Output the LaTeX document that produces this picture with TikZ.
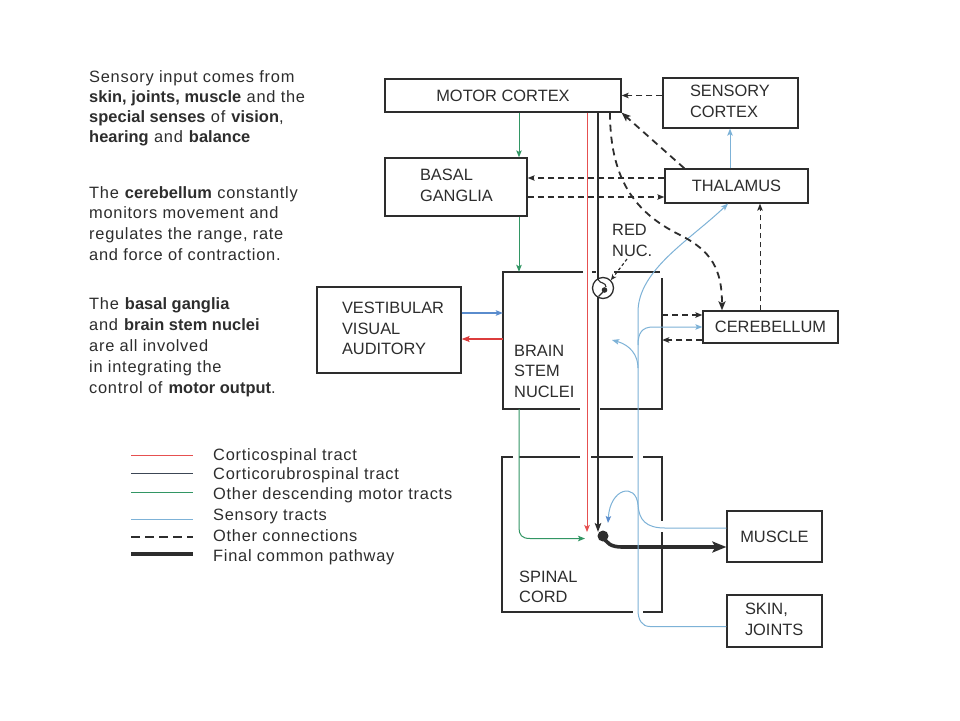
\documentclass[tikz,border=0pt]{standalone}
\usepackage{fontspec}
\setmainfont{Liberation Sans}
\newfontfamily\lsfont[LetterSpace=4.5, BoldFeatures={LetterSpace=0.3}]{Liberation Sans}
\usetikzlibrary{arrows.meta,calc}
\definecolor{ink}{RGB}{45,45,45}
\definecolor{tred}{RGB}{230,80,80}
\definecolor{tgreen}{RGB}{50,150,100}
\definecolor{tblue}{RGB}{125,178,215}
\definecolor{vblue}{RGB}{90,140,205}
\definecolor{vred}{RGB}{220,60,60}
\definecolor{rubro}{RGB}{60,70,85}
\newcommand{\capsz}{\fontsize{16.4}{20.5}\selectfont}
\newcommand{\bxt}[3]{\makebox[#1][l]{\hspace*{#2}\begin{tabular}{@{}l@{}}#3\end{tabular}}}
\begin{document}
\begin{tikzpicture}[x=1pt,y=-1pt,
  box/.style={draw=ink, line width=1.3pt, inner sep=0pt, text=ink, font=\capsz},
  outl/.style={draw=ink, line width=1.3pt},
  tip/.style={-{Stealth[length=7pt,width=5.5pt,inset=1.5pt]}},
  gr/.style={draw=tgreen, line width=1pt, tip},
  rd/.style={draw=tred, line width=1pt, tip},
  sens/.style={draw=tblue, line width=1pt, tip},
  vb/.style={draw=vblue, line width=1.1pt, tip},
  vr/.style={draw=vred, line width=1.1pt},
  rub/.style={draw=ink, line width=1.7pt},
  dsh/.style={draw=ink, line width=1.3pt, dash pattern=on 6pt off 4pt, tip},
  tdsh/.style={draw=ink, line width=1.8pt, dash pattern=on 7pt off 5pt, -{Stealth[length=9pt,width=7pt,inset=2pt]}},
  dthin/.style={draw=ink, line width=1pt, dash pattern=on 5pt off 4pt, tip},
  lt/.style={anchor=base west, inner sep=0pt, text=ink, font=\lsfont\capsz},
  lab/.style={anchor=base west, inner sep=0pt, text=ink, font=\capsz}]
\fill[white] (0,0) rectangle (960,720);
\useasboundingbox (0,0) rectangle (960,720);

% ---- boxes
\node[box, minimum width=236pt, minimum height=33pt] (mc) at (503,95.5) {MOTOR CORTEX};
\node[box, minimum width=135pt, minimum height=50pt] (sc) at (730.5,103) {\bxt{135pt}{27pt}{SENSORY\\CORTEX}};
\node[box, minimum width=142pt, minimum height=58pt] (bg) at (456,187) {\bxt{142pt}{35pt}{BASAL\\GANGLIA}};
\node[box, minimum width=143pt, minimum height=34pt] (th) at (736.5,186) {THALAMUS};
\node[box, minimum width=135pt, minimum height=32pt] (cb) at (770.5,327) {CEREBELLUM};
\node[box, minimum width=144pt, minimum height=86pt] (vs) at (389,330) {\bxt{144pt}{25pt}{VESTIBULAR\\VISUAL\\AUDITORY}};
\node[box, minimum width=95pt, minimum height=51pt] (mu) at (774.5,536.5) {MUSCLE};
\node[box, minimum width=95pt, minimum height=52pt] (sk) at (774.5,621) {\bxt{95pt}{18pt}{SKIN,\\JOINTS}};

% brain stem and spinal cord regions (outlines with gaps)
\node[draw=none, minimum width=159pt, minimum height=137pt, inner sep=0pt] (bs) at (582.5,340.5) {};
\node[draw=none, minimum width=160pt, minimum height=155pt, inner sep=0pt] (scd) at (582,534.5) {};
\draw[outl] (583,272) -- (503,272) -- (503,409) -- (580,409);
\draw[outl] (614,272) -- (660,272);
\draw[outl] (592,272) -- (596,272);
\draw[outl] (662,278) -- (662,409) -- (600,409);
\draw[outl] (513,457) -- (502,457) -- (502,612) -- (633,612);
\draw[outl] (519,457) -- (580,457);
\draw[outl] (591,457) -- (633,457);
\draw[outl] (643,457) -- (662,457) -- (662,521);
\draw[outl] (662,532) -- (662,612) -- (643,612);
\node[lab] (bst) at (514,356) {\begin{tabular}[t]{@{}l@{}}BRAIN\\STEM\\NUCLEI\end{tabular}};
\node[lab] (sct) at (519,582) {\begin{tabular}[t]{@{}l@{}}SPINAL\\CORD\end{tabular}};

% red nucleus
\node[circle, draw=ink, line width=1.3pt, minimum size=21pt, inner sep=0pt] (rn) at (603,288) {};
\node[lab] (rnl) at (612,235.5) {\begin{tabular}[t]{@{}l@{}}RED\\NUC.\end{tabular}};
\draw[ink, line width=1.2pt, dash pattern=on 3pt off 2.5pt, -{Stealth[length=6pt,width=5pt]}] (627,259) -- (rn.north east);

% x positions
\coordinate (xg) at (519,0);
\coordinate (xr) at (587,0);
\coordinate (xk) at (598,0);
\coordinate (xcv) at (610,0);
\coordinate (xcb) at (722,0);
\coordinate (xct) at (760,0);
\coordinate (xsc) at (730,0);
\coordinate (xth) at (728,0);
\coordinate (gend) at (585,538.5);
\coordinate (rend) at (587,532);
\coordinate (kend) at (598,532);
\node[circle, fill=ink, inner sep=0pt, minimum size=11pt] (syn) at (603,536) {};

% green: other descending motor tracts
\draw[gr] (mc.south -| xg) -- (bg.north -| xg);
\draw[gr] (bg.south -| xg) -- (bs.north -| xg);
\draw[gr] (bs.south -| xg) -- (519,528) .. controls (519,535) and (522,538.5) .. (530,538.5) -- (gend);

% red: corticospinal
\draw[rd] (mc.south -| xr) -- (rend);

% black: corticorubrospinal
\draw[rub] (mc.south -| xk) -- (598,279.5);
\draw[draw=ink, line width=1.1pt] (598,279.5) .. controls (600,284) and (606,282) .. (606,287);
\fill[ink] (604.5,290) circle (2.8);
\draw[draw=ink, line width=1.1pt] (603,292) -- (598.5,296.5);
\draw[rub, -{Stealth[length=9pt,width=6.5pt,inset=2pt]}] (598,296.5) -- (kend);

% final common pathway
\draw[draw=ink, line width=3.6pt, -{Stealth[length=14pt,width=11pt,inset=3pt]}] (syn.center) .. controls (606,543) and (611,547) .. (622,547) -- ($(mu.west)+(0,10.5)$);

% vestibular arrows
\coordinate (v1) at ($(vs.east)+(0,-17)$);
\coordinate (v2) at ($(vs.east)+(0,9)$);
\draw[vb] (v1) -- (v1 -| bs.west);
\draw[vr, -{Stealth[length=8pt,width=6pt,inset=1.5pt]}] (v2 -| bs.west) -- (v2);

% sensory tracts
\draw[sens] (th.north -| xsc) -- (sc.south -| xsc);
\draw[sens] ($(sk.west)+(0,5.5)$) -- (650,626.5) .. controls (642,626.5) and (638,620) .. (638,610) -- (638,312) .. controls (638,270) and (690,240) .. (th.south -| xth);
\draw[sens] (638,345) .. controls (638,333) and (642,327) .. (653,327) -- (cb.west);
\coordinate (sbr) at (612,340);
\draw[sens] (638,368) .. controls (638,355) and (630,345) .. (sbr);
\coordinate (mbr) at (608,523);
\draw[sens, -{Stealth[length=7pt,width=5.5pt,inset=1.5pt,color=vblue]}] ($(mu.west)+(0,-8.5)$) -- (665,528) .. controls (646,528) and (639,520) .. (638,505) .. controls (636,482) and (610,488) .. (mbr);

% other connections (dashed)
\draw[dsh] (sc.west |- mc.east) -- (mc.east);
\coordinate (t1) at ($(th.west)+(0,-8)$);
\coordinate (t2) at ($(th.west)+(0,11)$);
\draw[dsh] (t1) -- (t1 -| bg.east);
\draw[dsh] (t2 -| bg.east) -- (t2);
\draw[tdsh] ($(th.north west)+(20,0)$) -- (mc.south east);
\draw[tdsh] (mc.south -| xcv) .. controls (610,185) and (640,215) .. (680,235) .. controls (712,251) and (722,270) .. (cb.north -| xcb);
\draw[dthin] (cb.north -| xct) -- (th.south -| xct);
\coordinate (c1) at ($(cb.west)+(0,-12)$);
\coordinate (c2) at ($(cb.west)+(0,13)$);
\draw[dsh] (c1 -| bs.east) -- (c1);
\draw[dsh] (c2) -- (c2 -| bs.east);

% left texts
\node[lt] (p1) at (89,82) {\fontsize{16.4}{20}\selectfont\begin{tabular}[t]{@{}l@{}}Sensory input comes from\\\textbf{skin, joints, muscle} and the\\\textbf{special senses} of \textbf{vision},\\\textbf{hearing} and \textbf{balance}\end{tabular}};
\node[lt] (p2) at (89,198) {\fontsize{16.4}{20.8}\selectfont\begin{tabular}[t]{@{}l@{}}The \textbf{cerebellum} constantly\\monitors movement and\\regulates the range, rate\\and force of contraction.\end{tabular}};
\node[lt] (p3) at (89,309) {\fontsize{16.4}{21}\selectfont\begin{tabular}[t]{@{}l@{}}The \textbf{basal ganglia}\\and \textbf{brain stem nuclei}\\are all involved\\in integrating the\\control of \textbf{motor output}.\end{tabular}};

% legend
\draw[draw=tred, line width=1pt] (131,455) -- (193,455);
\draw[draw=rubro, line width=1pt] (131,473) -- (193,473);
\draw[draw=tgreen, line width=1pt] (131,492) -- (193,492);
\draw[draw=tblue, line width=1pt] (131,519) -- (193,519);
\draw[draw=ink, line width=1.2pt, dash pattern=on 9pt off 5pt] (131,537) -- (193,537);
\draw[draw=ink, line width=3.5pt] (131,554) -- (193,554);
\node[lt] (l1) at (213,460) {Corticospinal tract};
\node[lt] (l2) at (213,479.5) {Corticorubrospinal tract};
\node[lt] (l3) at (213,499.5) {Other descending motor tracts};
\node[lt] (l4) at (213,520) {Sensory tracts};
\node[lt] (l5) at (213,541) {Other connections};
\node[lt] (l6) at (213,561.5) {Final common pathway};
\end{tikzpicture}
\end{document}
